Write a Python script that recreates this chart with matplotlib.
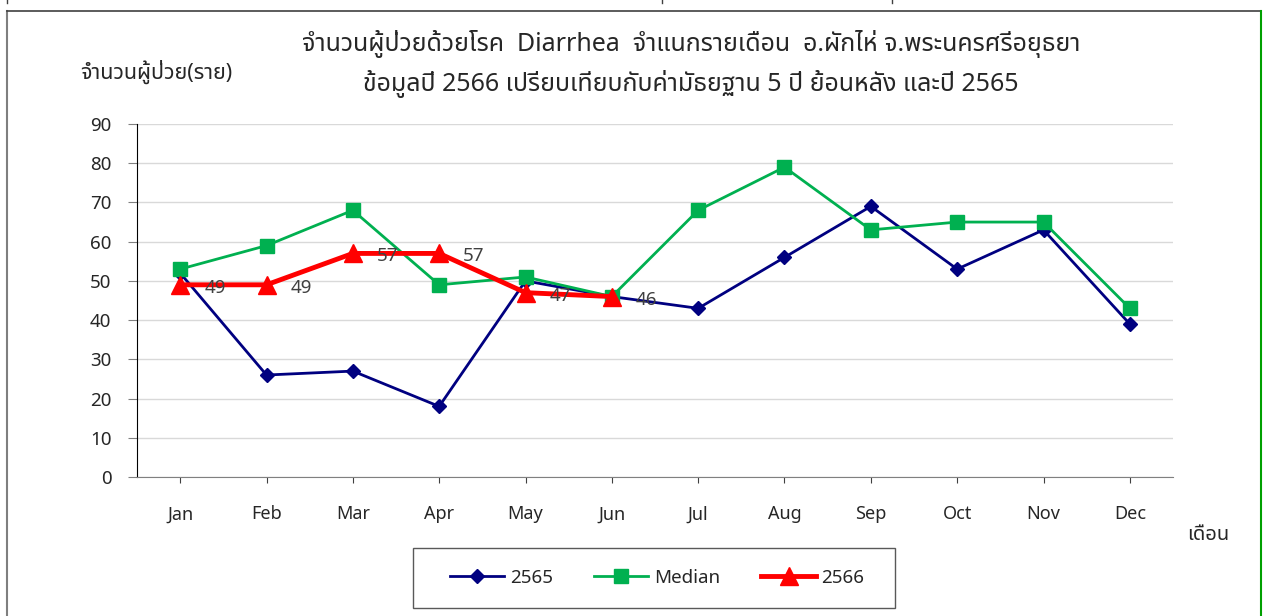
import matplotlib
matplotlib.use("Agg")
import matplotlib.pyplot as plt
from matplotlib.lines import Line2D
from matplotlib.patches import Rectangle

plt.rcParams['font.family'] = ['Noto Sans', 'Noto Sans Thai']

months = ['Jan', 'Feb', 'Mar', 'Apr', 'May', 'Jun', 'Jul', 'Aug', 'Sep', 'Oct', 'Nov', 'Dec']
y2565 = [52, 26, 27, 18, 50, 46, 43, 56, 69, 53, 63, 39]
median = [53, 59, 68, 49, 51, 46, 68, 79, 63, 65, 65, 43]
y2566 = [49, 49, 57, 57, 47, 46]

title = ("จำนวนผู้ป่วยด้วยโรค  Diarrhea  จำแนกรายเดือน  อ.ผักไห่ จ.พระนครศรีอยุธยา\n"
         "ข้อมูลปี 2566 เปรียบเทียบกับค่ามัธยฐาน 5 ปี ย้อนหลัง และปี 2565")
ylab = "จำนวนผู้ป่วย(ราย)"
xlab = "เดือน"

W, H = 1263, 616
fig = plt.figure(figsize=(W / 100, H / 100), dpi=100)
ax = fig.add_axes([137 / W, 1 - 477 / H, (1173 - 137) / W, (477 - 124) / H])

x = list(range(len(months)))
ax.plot(x, y2565, color='#000080', lw=2, marker='D', ms=7, label='2565', zorder=3)
ax.plot(x, median, color='#00B050', lw=2, marker='s', ms=10, label='Median', zorder=4)
ax.plot(x[:len(y2566)], y2566, color='#FF0000', lw=3.5, marker='^', ms=13, label='2566', zorder=5)

# data labels for 2566
for i, v in enumerate(y2566):
    ax.annotate(str(v), (i, v), xytext=(24, -3), textcoords='offset pixels',
                ha='left', va='center', fontsize=13.5, color='#404040', zorder=6)

ax.set_xlim(-0.5, 11.5)
ax.set_ylim(0, 90)
ax.set_yticks(range(0, 91, 10))
ax.set_xticks(x)
ax.set_xticklabels(months)
ax.grid(axis='y', color='#D9D9D9', lw=1)
ax.set_axisbelow(True)
for s in ['top', 'right']:
    ax.spines[s].set_visible(False)
ax.spines['left'].set_color('black')
ax.spines['bottom'].set_color('#808080')
ax.tick_params(axis='y', length=6.5, color='#808080', pad=12, labelsize=13.5, labelcolor='#262626')
ax.tick_params(axis='x', length=4.5, color='#404040', pad=16, labelsize=13, labelcolor='#262626')

fig.text(691 / W, 1 - 64 / H, title, ha='center', va='center', fontsize=18,
         color='#262626', linespacing=1.6)
fig.text(80 / W, 1 - 72 / H, ylab, ha='left', va='center', fontsize=15.5, color='#262626')
fig.text(1208 / W, 1 - 535 / H, xlab, ha='center', va='center', fontsize=14.5, color='#262626')

leg = fig.legend(loc='center', bbox_to_anchor=(657 / W, 1 - 578 / H), ncol=3, fontsize=13.5,
                 frameon=False, handlelength=2.9, handletextpad=0.3, columnspacing=2.2)
for t in leg.get_texts():
    t.set_color('#262626')
fig.add_artist(Rectangle((413 / W, 1 - 608 / H), 482 / W, 60 / H, fill=False,
                         edgecolor='#595959', lw=1, transform=fig.transFigure))

# outer frame
fig.add_artist(Line2D([7 / W, 7 / W], [0, 1 - 11 / H], color='#7F7F7F', lw=1.5))
fig.add_artist(Line2D([7 / W, 1261 / W], [1 - 11 / H, 1 - 11 / H], color='#404040', lw=1.2))
fig.add_artist(Line2D([1261 / W, 1261 / W], [0, 1 - 11 / H], color='#00A000', lw=1.5))
for px in [7, 662, 892]:
    fig.add_artist(Line2D([px / W, px / W], [1 - 3 / H, 1], color='#404040', lw=1))

fig.savefig('out.png', dpi=100)
